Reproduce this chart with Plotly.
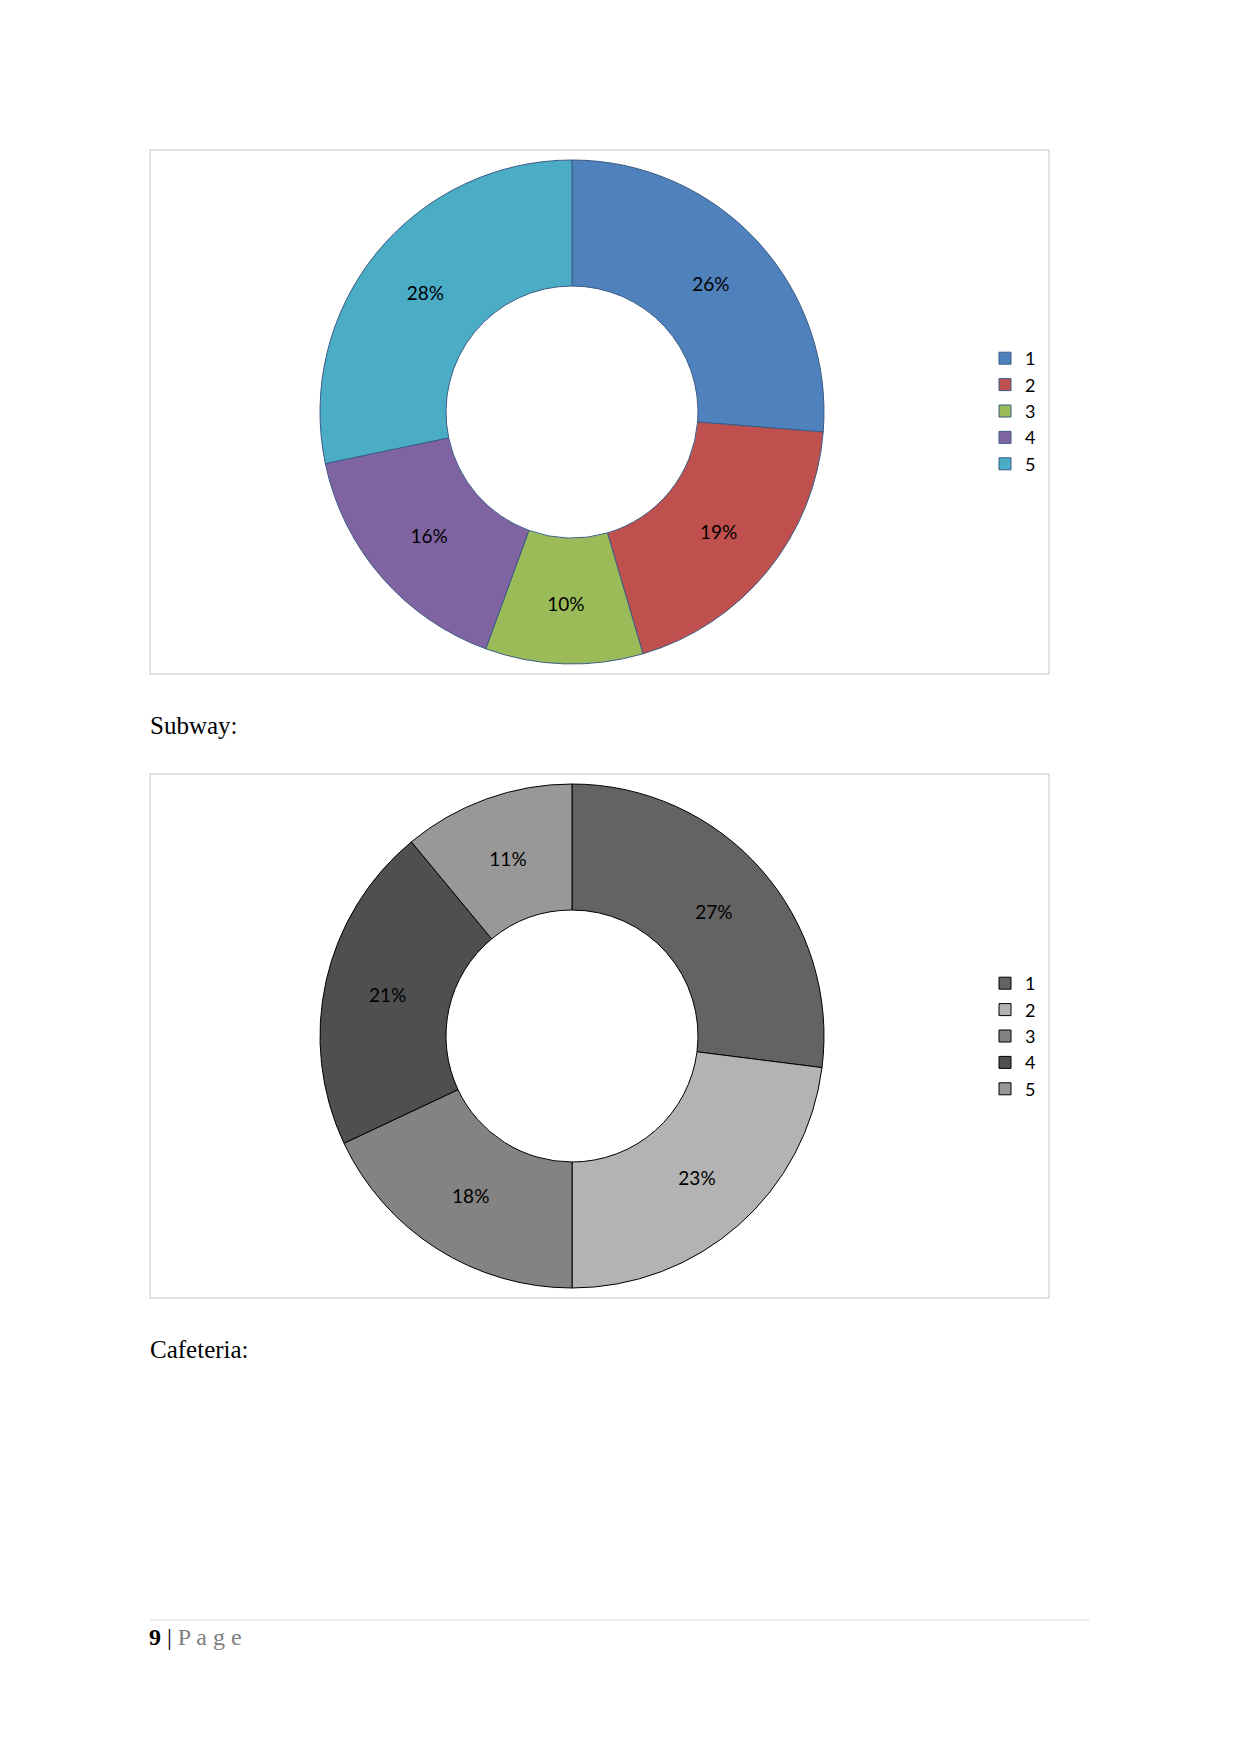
import plotly.graph_objects as go

W, H = 1241, 1754

categories = ["1", "2", "3", "4", "5"]
# same category names for the second chart (trailing space keeps legends separate)
categories_subway = ["1 ", "2 ", "3 ", "4 ", "5 "]
values_top = [26, 19, 10, 16, 28]
values_subway = [27, 23, 18, 21, 11]

colors_top = ["#4F81BD", "#C0504D", "#9BBB59", "#8064A2", "#4BACC6"]
colors_subway = ["#636363", "#B3B3B3", "#838383", "#4F4F4F", "#989898"]

def py(px):
    return 1 - px / H

def px_x(px):
    return px / W

fig = go.Figure()

label_font = dict(family="Lato, Carlito, sans-serif", size=19, color="#000000")

fig.add_trace(go.Pie(
    labels=categories, values=values_top, hole=0.5, sort=False,
    direction="clockwise", rotation=0,
    marker=dict(colors=colors_top, line=dict(color="#3B5C86", width=1)),
    texttemplate="%{percent:.0%}", textposition="inside",
    insidetextorientation="horizontal", textfont=label_font,
    domain=dict(x=[px_x(320), px_x(824)], y=[py(664), py(160)]),
    legend="legend", hoverinfo="label+percent",
))

fig.add_trace(go.Pie(
    labels=categories_subway, values=values_subway, hole=0.5, sort=False,
    direction="clockwise", rotation=0,
    marker=dict(colors=colors_subway, line=dict(color="#000000", width=1)),
    texttemplate="%{percent:.0%}", textposition="inside",
    insidetextorientation="horizontal", textfont=label_font,
    domain=dict(x=[px_x(320), px_x(824)], y=[py(1288), py(784)]),
    legend="legend2", hoverinfo="label+percent",
))

legend_font = dict(family="Lato, Carlito, sans-serif", size=18, color="#000000")
common_legend = dict(font=legend_font, bgcolor="rgba(0,0,0,0)", itemwidth=30,
                     xanchor="left", yanchor="middle", tracegroupgap=0)

shapes = [
    dict(type="rect", xref="paper", yref="paper", x0=px_x(150), x1=px_x(1049),
         y0=py(674), y1=py(150), line=dict(color="#D9D9D9", width=1.5)),
    dict(type="rect", xref="paper", yref="paper", x0=px_x(150), x1=px_x(1049),
         y0=py(1298), y1=py(774), line=dict(color="#D9D9D9", width=1.5)),
    dict(type="line", xref="paper", yref="paper", x0=px_x(150), x1=px_x(1089),
         y0=py(1620), y1=py(1620), line=dict(color="#D9D9D9", width=1)),
]

serif = dict(family="Liberation Serif, Times New Roman, serif", size=25, color="#000000")
annotations = [
    dict(text="Subway:", x=px_x(148), y=py(725), xref="paper", yref="paper",
         xanchor="left", yanchor="middle", showarrow=False, font=serif),
    dict(text="Cafeteria:", x=px_x(148), y=py(1349), xref="paper", yref="paper",
         xanchor="left", yanchor="middle", showarrow=False, font=serif),
    dict(text="<b>9</b> | <span style='color:#7F7F7F'>P a g e</span>", x=px_x(147), y=py(1637),
         xref="paper", yref="paper", xanchor="left", yanchor="middle", showarrow=False,
         font=dict(family="Liberation Serif, Times New Roman, serif", size=24, color="#000000")),
]

fig.update_layout(
    width=W, height=H, margin=dict(l=0, r=0, t=0, b=0),
    paper_bgcolor="white", plot_bgcolor="white",
    showlegend=True,
    legend=dict(x=px_x(985), y=py(411), **common_legend),
    legend2=dict(x=px_x(985), y=py(1036), **common_legend),
    shapes=shapes, annotations=annotations,
)

fig.write_html("out.html")
